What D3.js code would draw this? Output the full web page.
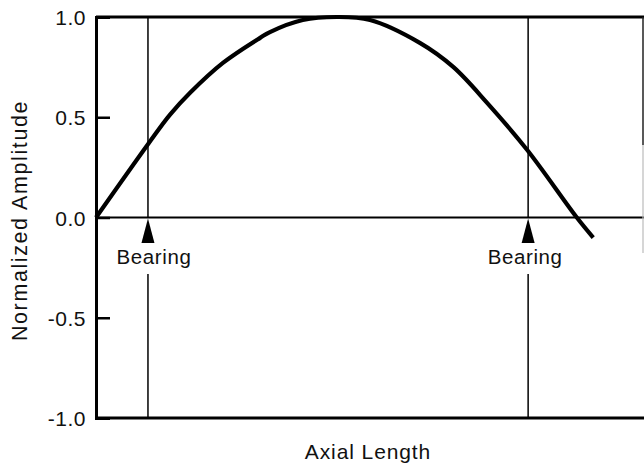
<!DOCTYPE html>
<html>
<head>
<meta charset="utf-8">
<script src="https://cdn.jsdelivr.net/npm/d3@7"></script>
<style>
  html, body { margin: 0; padding: 0; background: #fff; }
  svg { display: block; }
  text { font-family: "Liberation Sans", Arial, Helvetica, sans-serif; fill: #111; }
</style>
</head>
<body>
<svg id="chart" width="644" height="466"></svg>
<script>
// ---- data ----
const yTickValues = [-1.0, -0.5, 0.0, 0.5, 1.0];
const yTickLabels = ["-1.0", "-0.5", "0.0", "0.5", "1.0"];
const curveX = [0, 0.097, 0.135, 0.172, 0.232, 0.300, 0.318, 0.378, 0.441, 0.501, 0.592, 0.653, 0.715, 0.788, 0.879, 0.909];
const curveY = [0, 0.373, 0.512, 0.622, 0.771, 0.896, 0.925, 0.985, 1.000, 0.985, 0.871, 0.751, 0.572, 0.338, 0.000, -0.100];
const bearingX = [0.095, 0.790];
const bearingLabels = ["Bearing", "Bearing"];
const xTitle = "Axial Length";
const yTitle = "Normalized Amplitude";

// ---- layout ----
const svg = d3.select("#chart");
const x = d3.scaleLinear().domain([0, 1]).range([96, 643]);
const y = d3.scaleLinear().domain([-1, 1]).range([418, 17]);

// frame: top and bottom lines
svg.append("line").attr("x1", x(0)).attr("x2", 644).attr("y1", y(1)).attr("y2", y(1))
  .attr("stroke", "#000").attr("stroke-width", 3);
svg.append("line").attr("x1", x(0)).attr("x2", 644).attr("y1", y(-1)).attr("y2", y(-1))
  .attr("stroke", "#000").attr("stroke-width", 3);
// zero line
svg.append("line").attr("x1", x(0)).attr("x2", 644).attr("y1", y(0)).attr("y2", y(0))
  .attr("stroke", "#000").attr("stroke-width", 2.2);
// partial right border (cut off in original)
svg.append("line").attr("x1", 643).attr("x2", 643).attr("y1", y(1)).attr("y2", 145)
  .attr("stroke", "#222").attr("stroke-width", 1.5);
svg.append("line").attr("x1", 643).attr("x2", 643).attr("y1", 145).attr("y2", 253)
  .attr("stroke", "#bbb").attr("stroke-width", 1.2);

// y axis
const yAxis = d3.axisLeft(y)
  .tickValues(yTickValues)
  .tickSize(-14)
  .tickPadding(10)
  .tickFormat((d, i) => yTickLabels[i]);
const gy = svg.append("g").attr("transform", `translate(${x(0)},0)`).call(yAxis);
gy.select(".domain").attr("stroke", "#000").attr("stroke-width", 3);
gy.selectAll(".tick line").attr("stroke", "#000").attr("stroke-width", 2.5);
gy.selectAll(".tick text")
  .attr("font-size", 21).attr("letter-spacing", 0.5)
  .attr("font-family", "'Liberation Sans', Arial, sans-serif")
  .attr("fill", "#111").attr("dy", "0.36em");

// bearings
const arrowTop = y(0) + 1, arrowBase = 243, labelBaseline = 264, lowerStart = 274;
const labelDx = [6, -3];
bearingX.forEach((b, i) => {
  const bx = x(b);
  svg.append("line").attr("x1", bx).attr("x2", bx).attr("y1", y(1)).attr("y2", y(0))
    .attr("stroke", "#000").attr("stroke-width", 1.5);
  svg.append("line").attr("x1", bx).attr("x2", bx).attr("y1", lowerStart).attr("y2", y(-1))
    .attr("stroke", "#000").attr("stroke-width", 1.5);
  svg.append("path")
    .attr("d", `M${bx},${arrowTop} L${bx - 6.5},${arrowBase} L${bx + 6.5},${arrowBase} Z`)
    .attr("fill", "#000");
  svg.append("text").attr("x", bx + labelDx[i]).attr("y", labelBaseline)
    .attr("text-anchor", "middle").attr("font-size", 20.5).attr("letter-spacing", 0.6)
    .text(bearingLabels[i]);
});

// curve
const pts = curveX.map((d, i) => [d, curveY[i]]);
const line = d3.line().x(d => x(d[0])).y(d => y(d[1])).curve(d3.curveCatmullRom.alpha(0.5));
svg.append("path").datum(pts).attr("d", line)
  .attr("fill", "none").attr("stroke", "#000").attr("stroke-width", 4.2)
  .attr("stroke-linecap", "butt");

// titles
svg.append("text").attr("x", 368).attr("y", 459).attr("text-anchor", "middle")
  .attr("font-size", 21).attr("letter-spacing", 0.9).text(xTitle);
svg.append("text").attr("transform", `translate(27,${y(0) + 3}) rotate(-90)`)
  .attr("text-anchor", "middle").attr("font-size", 21.5).attr("letter-spacing", 1.6).text(yTitle);
</script>
</body>
</html>
